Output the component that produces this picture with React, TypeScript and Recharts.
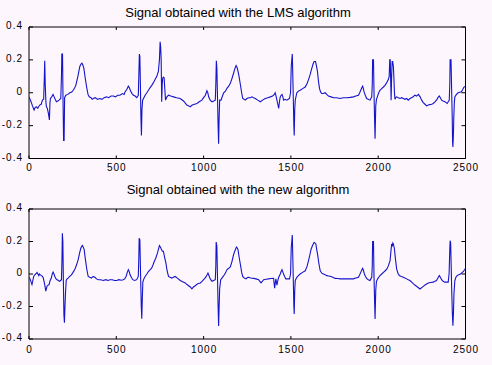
import React from "react";
import { LineChart, Line, XAxis, YAxis, ReferenceArea } from "recharts";

const xTicks = [0, 500, 1000, 1500, 2000, 2500];
const yTicks = [-0.4, -0.2, 0, 0.2, 0.4];
const titleLms = "Signal obtained with the LMS algorithm";
const titleNew = "Signal obtained with the new algorithm";

// [sample, amplitude]
const lmsPoints: [number, number][] = [
  [0,-0.025],[10,-0.05],[20,-0.08],[29,-0.105],[35,-0.09],[42,-0.085],[50,-0.095],[61,-0.075],[70,-0.07],[77,-0.045],[84,-0.04],[88,0.1],[90,0.195],[93,0.05],[97,-0.06],[100,-0.085],[105,-0.095],[110,-0.12],[117,-0.165],[120,-0.06],[123,-0.035],[130,-0.025],[138,-0.01],[144,-0.025],[150,-0.04],[157,-0.055],[165,-0.05],[172,-0.045],[182,-0.035],[186,0.1],[188,0.235],[192,0.235],[195,-0.05],[198,-0.29],[201,-0.29],[204,-0.03],[211,-0.015],[222,-0.01],[234,0],[245,0.005],[253,0.015],[262,0.03],[268,0.045],[280,0.1],[291,0.16],[298,0.175],[303,0.18],[308,0.17],[314,0.15],[322,0.09],[330,0.035],[338,-0.01],[345,-0.025],[355,-0.03],[362,-0.04],[368,-0.035],[380,-0.03],[392,-0.04],[406,-0.035],[418,-0.04],[430,-0.03],[444,-0.025],[456,-0.03],[470,-0.02],[483,-0.02],[495,-0.025],[508,-0.015],[521,-0.015],[535,-0.005],[545,-0.01],[550,0.005],[560,0.02],[569,0.04],[575,0.03],[582,0.01],[590,-0.005],[598,-0.015],[608,-0.02],[617,-0.03],[626,-0.015],[629,0.1],[632,0.235],[635,0.22],[638,0.05],[641,-0.15],[644,-0.26],[647,-0.1],[651,-0.045],[658,-0.03],[665,-0.015],[675,0],[684,0.015],[693,0.03],[703,0.045],[712,0.06],[722,0.08],[732,0.1],[741,0.13],[747,0.2],[751,0.31],[754,0.28],[757,0.2],[760,-0.055],[763,0.05],[766,0.09],[770,0.095],[774,0.09],[778,0.02],[782,-0.045],[790,-0.025],[799,-0.015],[812,-0.02],[828,-0.025],[845,-0.03],[866,-0.035],[885,-0.05],[904,-0.075],[915,-0.08],[923,-0.085],[935,-0.075],[948,-0.07],[962,-0.065],[975,-0.055],[990,-0.045],[1000,-0.03],[1010,-0.015],[1019,0.012],[1024,0],[1029,-0.025],[1038,-0.045],[1048,-0.055],[1058,-0.05],[1067,-0.045],[1070,0.05],[1073,0.195],[1076,0.15],[1080,-0.045],[1083,-0.2],[1086,-0.31],[1089,-0.15],[1092,-0.045],[1100,-0.045],[1108,-0.02],[1115,0],[1125,0.01],[1134,0.027],[1144,0.04],[1153,0.057],[1162,0.085],[1172,0.12],[1180,0.15],[1186,0.165],[1191,0.155],[1195,0.14],[1203,0.1],[1211,0.047],[1218,0],[1224,-0.035],[1232,-0.04],[1239,-0.045],[1248,-0.035],[1258,-0.03],[1267,-0.03],[1277,-0.025],[1286,-0.03],[1296,-0.035],[1310,-0.045],[1325,-0.055],[1338,-0.045],[1353,-0.035],[1368,-0.03],[1382,-0.025],[1395,-0.02],[1405,-0.01],[1410,0],[1415,-0.02],[1420,-0.045],[1425,-0.07],[1430,-0.095],[1435,-0.05],[1439,-0.025],[1444,-0.015],[1449,-0.01],[1454,-0.025],[1458,-0.045],[1467,-0.04],[1477,-0.045],[1485,-0.04],[1492,-0.035],[1498,0],[1502,0.16],[1505,0.2],[1508,0.235],[1511,0.1],[1514,-0.05],[1517,-0.2],[1519,-0.26],[1522,-0.1],[1525,-0.045],[1534,0],[1543,0.01],[1553,0.015],[1567,0.025],[1582,0.035],[1592,0.055],[1601,0.08],[1610,0.11],[1620,0.15],[1627,0.175],[1633,0.19],[1641,0.19],[1646,0.165],[1652,0.13],[1658,0.07],[1664,0.025],[1670,0.005],[1677,-0.005],[1686,-0.005],[1696,0],[1705,-0.01],[1715,-0.02],[1730,-0.025],[1744,-0.03],[1762,-0.03],[1782,-0.035],[1800,-0.03],[1820,-0.03],[1840,-0.028],[1858,-0.025],[1872,-0.02],[1887,-0.015],[1894,0],[1900,0.015],[1906,0.03],[1911,0.04],[1915,0.025],[1919,0.005],[1926,-0.015],[1934,-0.035],[1943,-0.04],[1953,-0.045],[1958,-0.035],[1963,-0.025],[1966,0.05],[1968,0.2],[1973,0.2],[1976,0],[1979,-0.15],[1982,-0.28],[1986,-0.08],[1990,-0.04],[1995,-0.025],[2003,0],[2010,0.015],[2020,0.025],[2030,0.035],[2039,0.045],[2048,0.06],[2058,0.08],[2063,0.1],[2066,0.2],[2069,0.2],[2072,0.05],[2074,-0.045],[2077,0.1],[2080,0.19],[2083,0.19],[2087,0.16],[2090,0.09],[2093,0],[2096,-0.04],[2100,-0.03],[2106,-0.025],[2115,-0.03],[2125,-0.035],[2135,-0.03],[2144,-0.035],[2153,-0.04],[2163,-0.035],[2172,-0.045],[2182,-0.035],[2191,-0.03],[2200,-0.025],[2210,-0.015],[2220,-0.02],[2230,-0.01],[2240,-0.025],[2249,-0.045],[2258,-0.06],[2268,-0.07],[2277,-0.08],[2287,-0.075],[2296,-0.072],[2306,-0.07],[2315,-0.065],[2325,-0.055],[2334,-0.045],[2342,-0.03],[2350,-0.02],[2356,-0.03],[2363,-0.045],[2372,-0.05],[2382,-0.055],[2389,-0.06],[2395,-0.065],[2401,-0.055],[2407,-0.045],[2410,0.05],[2412,0.2],[2417,0.2],[2420,0.05],[2424,-0.15],[2426,-0.3],[2428,-0.33],[2431,-0.25],[2433,-0.15],[2436,-0.06],[2439,-0.025],[2448,-0.01],[2458,0],[2467,0.003],[2477,0.006],[2484,0.02],[2490,0.033],[2500,0.04]
];

const newPoints: [number, number][] = [
  [0,-0.02],[8,-0.035],[12,-0.05],[17,-0.065],[22,-0.04],[27,-0.015],[33,-0.005],[38,0],[46,0.01],[51,0],[56,-0.01],[60,0],[65,-0.005],[71,-0.01],[77,-0.015],[82,-0.025],[86,-0.045],[91,-0.07],[96,-0.105],[100,-0.09],[103,-0.075],[108,-0.07],[115,-0.065],[121,-0.04],[128,-0.025],[133,0],[138,0.012],[143,0],[148,-0.015],[155,-0.03],[161,-0.035],[168,-0.04],[176,-0.045],[181,-0.04],[186,-0.035],[189,0.1],[191,0.25],[194,0.2],[197,-0.05],[200,-0.25],[203,-0.3],[206,-0.2],[209,-0.12],[213,-0.04],[218,-0.03],[224,-0.025],[233,-0.015],[243,-0.005],[252,0.01],[262,0.027],[272,0.055],[282,0.09],[290,0.13],[297,0.16],[302,0.17],[306,0.175],[311,0.165],[316,0.15],[323,0.09],[330,0.037],[335,0.005],[339,-0.015],[348,-0.02],[358,-0.025],[367,-0.015],[377,-0.02],[387,-0.03],[397,-0.035],[410,-0.035],[425,-0.04],[440,-0.035],[452,-0.04],[464,-0.035],[477,-0.035],[490,-0.04],[502,-0.04],[515,-0.035],[528,-0.038],[540,-0.035],[548,-0.03],[556,-0.015],[563,0.01],[569,0.027],[574,0.015],[579,-0.005],[586,-0.02],[594,-0.035],[605,-0.04],[617,-0.035],[626,-0.015],[629,0.1],[631,0.22],[635,0.21],[638,0.05],[641,-0.1],[643,-0.2],[646,-0.275],[649,-0.15],[652,-0.05],[658,-0.03],[665,-0.015],[675,0],[684,0.015],[693,0.025],[703,0.037],[710,0.055],[718,0.078],[727,0.1],[736,0.13],[742,0.155],[747,0.175],[753,0.165],[759,0.15],[764,0.14],[770,0.14],[777,0.1],[784,0.068],[791,0.02],[799,-0.015],[808,-0.02],[818,-0.025],[827,-0.02],[837,-0.015],[850,-0.025],[866,-0.04],[880,-0.048],[895,-0.055],[905,-0.065],[914,-0.072],[924,-0.08],[933,-0.092],[942,-0.08],[952,-0.072],[966,-0.06],[981,-0.055],[991,-0.045],[1000,-0.035],[1008,-0.025],[1015,-0.015],[1020,-0.005],[1025,0.006],[1029,-0.005],[1034,-0.02],[1041,-0.035],[1048,-0.045],[1057,-0.04],[1067,-0.035],[1070,0.05],[1072,0.197],[1076,0.17],[1080,-0.04],[1083,-0.2],[1086,-0.32],[1089,-0.2],[1092,-0.09],[1098,-0.035],[1105,-0.025],[1112,-0.015],[1119,-0.005],[1127,0.01],[1134,0.027],[1144,0.035],[1153,0.043],[1162,0.075],[1172,0.12],[1180,0.145],[1188,0.166],[1193,0.16],[1197,0.15],[1204,0.1],[1211,0.057],[1218,0.01],[1224,-0.015],[1233,-0.025],[1243,-0.03],[1251,-0.022],[1258,-0.02],[1270,-0.025],[1287,-0.027],[1300,-0.03],[1315,-0.035],[1322,-0.045],[1329,-0.055],[1336,-0.045],[1344,-0.035],[1358,-0.032],[1372,-0.03],[1386,-0.028],[1401,-0.027],[1404,-0.06],[1407,-0.088],[1411,-0.05],[1414,-0.03],[1417,-0.05],[1420,-0.068],[1425,-0.04],[1430,-0.02],[1435,-0.01],[1439,0],[1444,0.015],[1449,0.027],[1453,0.015],[1458,0],[1464,-0.015],[1471,-0.03],[1482,-0.03],[1492,-0.03],[1498,0],[1502,0.165],[1505,0.2],[1508,0.24],[1511,0.1],[1514,-0.05],[1517,-0.2],[1519,-0.246],[1522,-0.1],[1525,-0.04],[1534,-0.02],[1543,-0.01],[1553,0],[1567,0.01],[1582,0.02],[1592,0.045],[1601,0.082],[1609,0.12],[1616,0.154],[1624,0.175],[1633,0.195],[1638,0.19],[1643,0.185],[1648,0.15],[1654,0.113],[1661,0.06],[1668,0.02],[1677,0.005],[1687,0],[1696,-0.005],[1706,-0.01],[1715,-0.012],[1725,-0.014],[1740,-0.02],[1753,-0.027],[1768,-0.028],[1782,-0.03],[1800,-0.03],[1820,-0.03],[1840,-0.03],[1858,-0.03],[1872,-0.025],[1887,-0.02],[1894,-0.005],[1900,0.01],[1906,0.025],[1911,0.035],[1916,0.02],[1921,0],[1927,-0.015],[1934,-0.027],[1943,-0.035],[1953,-0.04],[1958,-0.03],[1963,-0.02],[1966,0.05],[1968,0.2],[1973,0.2],[1976,-0.02],[1979,-0.15],[1982,-0.277],[1986,-0.1],[1990,-0.045],[1997,-0.03],[2003,-0.02],[2010,-0.01],[2020,0],[2030,0.01],[2040,0.02],[2049,0.03],[2058,0.05],[2068,0.082],[2072,0.13],[2077,0.185],[2081,0.17],[2084,0.19],[2087,0.185],[2093,0.154],[2099,0.09],[2106,0.03],[2113,0.005],[2121,-0.01],[2132,-0.015],[2144,-0.02],[2153,-0.025],[2163,-0.03],[2172,-0.035],[2182,-0.04],[2196,-0.055],[2210,-0.068],[2225,-0.08],[2239,-0.092],[2248,-0.085],[2258,-0.076],[2272,-0.065],[2287,-0.055],[2300,-0.052],[2315,-0.05],[2325,-0.045],[2334,-0.04],[2342,-0.025],[2350,-0.01],[2356,-0.02],[2363,-0.035],[2372,-0.045],[2382,-0.05],[2391,-0.05],[2401,-0.05],[2406,0],[2410,0.15],[2412,0.205],[2415,0.19],[2418,0.05],[2421,-0.1],[2425,-0.25],[2428,-0.318],[2431,-0.24],[2434,-0.12],[2439,-0.04],[2445,-0.02],[2452,-0.01],[2461,-0.005],[2471,0],[2480,0.008],[2487,0.014],[2494,0.025],[2500,0.035]
];

const W = 492;
const BG = "#fdf6fd";
const LINE = "#1414c8";
const PLOT_LEFT = 29;
const PLOT_RIGHT = 465.5;
const FONT = "'Liberation Sans', Arial, Helvetica, sans-serif";

function makeXTick(plotTop: number, labelGap: number) {
  return (props: any) => {
    const { x, y, payload } = props;
    return (
      <g>
        <line x1={x} y1={y} x2={x} y2={y - 3} stroke="#000" />
        <line x1={x} y1={plotTop} x2={x} y2={plotTop + 3} stroke="#000" />
        <text x={x + 0.5} y={y + labelGap} textAnchor="middle" fontSize={10} letterSpacing={1} fontFamily={FONT} fill="#000">
          {String(payload.value)}
        </text>
      </g>
    );
  };
}

function YTick(props: any) {
  const { x, y, payload } = props;
  return (
    <g>
      <line x1={x} y1={y} x2={x + 4} y2={y} stroke="#000" />
      <line x1={PLOT_RIGHT - 4} y1={y} x2={PLOT_RIGHT} y2={y} stroke="#000" />
      <text x={x - 6} y={y + 2} textAnchor="end" fontSize={10} letterSpacing={1} fontFamily={FONT} fill="#000">
        {String(payload.value)}
      </text>
    </g>
  );
}

function Panel({ points, top, height, bottomMargin, labelGap }: { points: [number, number][]; top: number; height: number; bottomMargin: number; labelGap: number }) {
  const data = points.map(([x, y]) => ({ x, y }));
  const plotTop = 27;
  return (
    <div style={{ position: "absolute", left: 0, top, width: W, height }}>
      <LineChart width={W} height={height} data={data} margin={{ top: plotTop, right: W - PLOT_RIGHT, bottom: bottomMargin, left: 0 }}>
        <XAxis type="number" dataKey="x" domain={[0, 2500]} ticks={xTicks} height={20} axisLine={false} tickLine={false} tickSize={0} tickMargin={0} interval={0} tick={makeXTick(plotTop, labelGap)} allowDataOverflow />
        <YAxis type="number" domain={[-0.4, 0.4]} ticks={yTicks} width={PLOT_LEFT} axisLine={false} tickLine={false} tickSize={0} tickMargin={0} interval={0} tick={YTick} allowDataOverflow />
        <ReferenceArea x1={0} x2={2500} y1={-0.4} y2={0.4} fill="none" fillOpacity={0} stroke="#000" strokeWidth={1} />
        <Line type="linear" dataKey="y" stroke={LINE} strokeWidth={1.1} dot={false} activeDot={false} isAnimationActive={false} />
      </LineChart>
    </div>
  );
}

export default function App() {
  return (
    <div style={{ position: "absolute", left: 0, top: 0, width: W, height: 365, background: BG, overflow: "hidden" }}>
      <Panel points={lmsPoints} top={0} height={182} bottomMargin={3.5} labelGap={12} />
      <Panel points={newPoints} top={182} height={183} bottomMargin={6} labelGap={14} />
      <svg width={W} height={365} style={{ position: "absolute", left: 0, top: 0, pointerEvents: "none" }}>
        <text x={238} y={17} textAnchor="middle" fontSize={13} fontFamily={FONT} fill="#000">{titleLms}</text>
        <text x={238} y={194} textAnchor="middle" fontSize={13} fontFamily={FONT} fill="#000">{titleNew}</text>
      </svg>
    </div>
  );
}
